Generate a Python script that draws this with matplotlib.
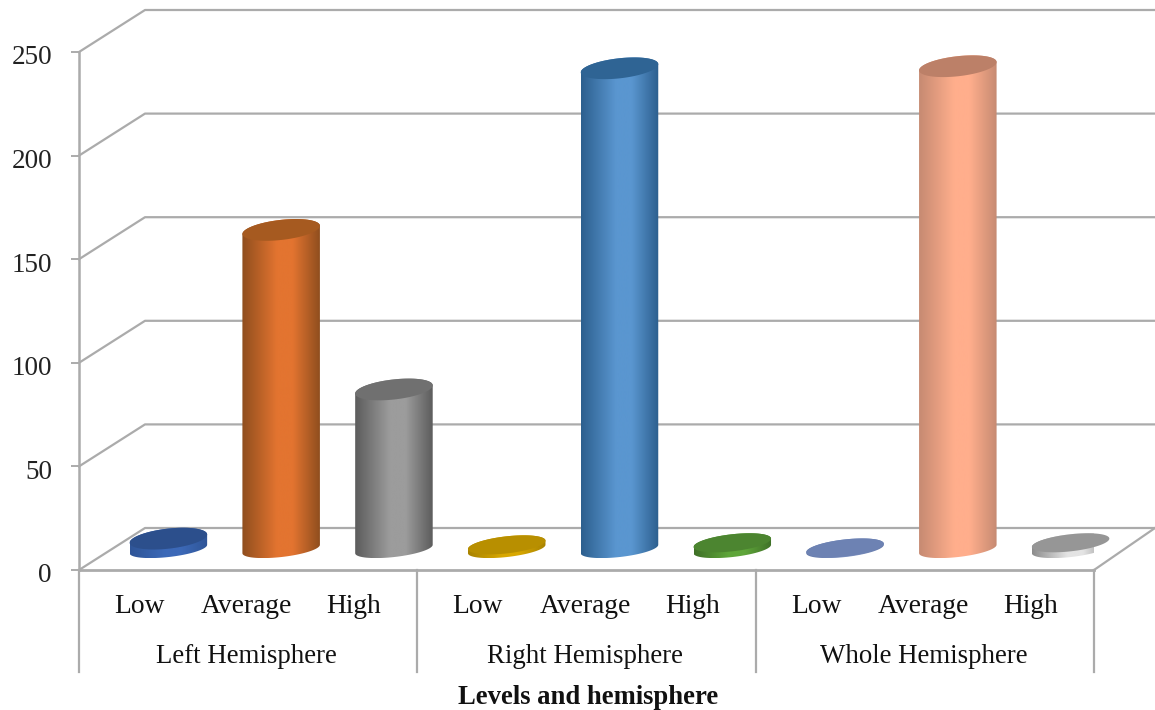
import matplotlib
matplotlib.use("Agg")
import matplotlib.pyplot as plt
import numpy as np
from matplotlib.path import Path
from matplotlib.patches import PathPatch
from matplotlib.colors import LinearSegmentedColormap
from matplotlib.transforms import ScaledTranslation

# Valores de cada barra, por grupo
grupos = ["Left Hemisphere", "Right Hemisphere", "Whole Hemisphere"]
niveles = ["Low", "Average", "High"]
valores = [5, 154, 77, 2, 232, 3, 0.5, 233, 3]

# Colores: borde oscuro, centro claro, tapa
color_borde = ["#2F5597", "#8F4E1E", "#5C5C5C", "#A88300", "#2C5F8E", "#3F7028", "#6478A8", "#C68A72", "#8C8C8C"]
color_centro = ["#3C69B8", "#E37430", "#9C9C9C", "#D9A800", "#5A96D0", "#5FA63A", "#7F93C2", "#FFAE8C", "#E4E4E4"]
color_tapa = ["#2C4F8C", "#A65A20", "#707070", "#B88F00", "#2F6494", "#4C8530", "#6D82B3", "#BC8068", "#969696"]

ancho_fig, alto_fig = 1155, 710
frente_izq, frente_der, frente_sup, frente_inf = 79, 1094, 52, 570
fondo_x, fondo_y = 66, 42          # desplazamiento de la pared del fondo, en pixeles
medio_x, medio_y = 33, 21          # las barras estan a media profundidad
radio_x, giro = 39, np.radians(6.5)

fig = plt.figure(figsize=(ancho_fig / 100, alto_fig / 100), dpi=100)
ax = fig.add_axes([frente_izq / ancho_fig, 1 - frente_inf / alto_fig,
                   (frente_der - frente_izq) / ancho_fig, (frente_inf - frente_sup) / alto_fig])
ax.set_xlim(-0.5, 8.5)
ax.set_ylim(0, 250)
ax.patch.set_visible(False)

# Pixeles a unidades de datos
px_x = 9 / (frente_der - frente_izq)
px_y = 250 / (frente_inf - frente_sup)
GRIS = "#ABABAB"

for s in ["top", "right", "bottom"]:
    ax.spines[s].set_visible(False)
ax.spines["left"].set_color(GRIS)
ax.spines["left"].set_linewidth(1.8)

ax.set_yticks(range(0, 251, 50))
ax.tick_params(axis="y", length=6, width=1.4, color=GRIS, labelsize=19.5, labelcolor="#222222", pad=13.5)
bajar = ScaledTranslation(0, -3 / 100, fig.dpi_scale_trans)
for t in ax.get_yticklabels():
    t.set_family("Liberation Serif")
    t.set_transform(t.get_transform() + bajar)

# Paredes: lineas del fondo y diagonales laterales
x0, x1 = -0.5, 8.5
dx, dy = fondo_x * px_x, fondo_y * px_y
for v in range(0, 251, 50):
    ax.plot([x0, x0 + dx, x1 + 61 * px_x], [v, v + dy, v + dy], color=GRIS, lw=1.6, clip_on=False, zorder=1)
ax.plot([x0, x1], [0, 0], color=GRIS, lw=2, clip_on=False, zorder=1)
ax.plot([x1, x1 + 61 * px_x], [0, dy], color=GRIS, lw=1.6, clip_on=False, zorder=1)


def elipse(cx, cy, radio_y, n=80):
    t = np.linspace(0, 2 * np.pi, n)
    ex = radio_x * np.cos(t) * np.cos(giro) - radio_y * np.sin(t) * np.sin(giro)
    ey = radio_x * np.cos(t) * np.sin(giro) + radio_y * np.sin(t) * np.cos(giro)
    return cx + ex * px_x, cy + ey * px_y


# Cilindros con degradado horizontal
for i, v in enumerate(valores):
    cx = i + medio_x * px_x
    base = medio_y * px_y
    tope = base + v
    radio_tapa = 10 if v > 4 else 8.5
    xb, yb = elipse(cx, base, 8)
    xt, yt = elipse(cx, tope, radio_tapa)
    # contorno: mitad inferior de la base y mitad superior de la tapa
    izq_b, der_b = np.argmin(xb), np.argmax(xb)
    izq_t, der_t = np.argmin(xt), np.argmax(xt)
    abajo = np.arange(izq_b, der_b + 1) if izq_b < der_b else np.r_[izq_b:80, 0:der_b + 1]
    arriba = np.r_[der_t:80, 0:izq_t + 1] if izq_t < der_t else np.arange(der_t, izq_t + 1)
    vx = np.r_[xb[abajo], xt[arriba]]
    vy = np.r_[yb[abajo], yt[arriba]]
    contorno = PathPatch(Path(np.c_[vx, vy]), fc="none", ec="none", clip_on=False, transform=ax.transData)
    ax.add_patch(contorno)
    cmap = LinearSegmentedColormap.from_list(
        "c", [(0, color_borde[i]), (0.45, color_centro[i]), (0.65, color_centro[i]), (1, color_borde[i])])
    grad = np.linspace(0, 1, 256).reshape(1, -1)
    img = ax.imshow(grad, cmap=cmap, aspect="auto", zorder=3,
                    extent=[vx.min(), vx.max(), vy.min(), vy.max()])
    img.set_clip_path(contorno)
    ax.fill(xt, yt, color=color_tapa[i], lw=0, zorder=4, clip_on=False)

ax.set_xlim(-0.5, 8.5)
ax.set_ylim(0, 250)

# Etiquetas de niveles y de grupos
ax.set_xticks([])
for g, nombre in enumerate(grupos):
    centro = 3 * g + 1 - 1.5 * px_x
    for j, nivel in enumerate(niveles):
        ax.annotate(nivel, (centro + (j - 1) * 0.95, 0), xytext=(0, -37 / 1.389), textcoords="offset points",
                    ha="center", va="center", family="Liberation Serif", fontsize=19.8, color="#111111",
                    annotation_clip=False)
    ax.annotate(nombre, (centro, 0), xytext=(0, -87 / 1.389), textcoords="offset points", ha="center", va="center",
                family="Liberation Serif", fontsize=19.4, color="#111111", annotation_clip=False)
for g in range(4):
    ax.plot([3 * g - 0.5] * 2, [0, -102 * px_y], color=GRIS, lw=1.6, clip_on=False, zorder=1)

fig.text(588 / ancho_fig, 1 - 697 / alto_fig, "Levels and hemisphere", family="Liberation Serif",
         fontsize=19.2, fontweight="bold", ha="center", va="center", color="#111111")

fig.savefig("out.png", dpi=100)
